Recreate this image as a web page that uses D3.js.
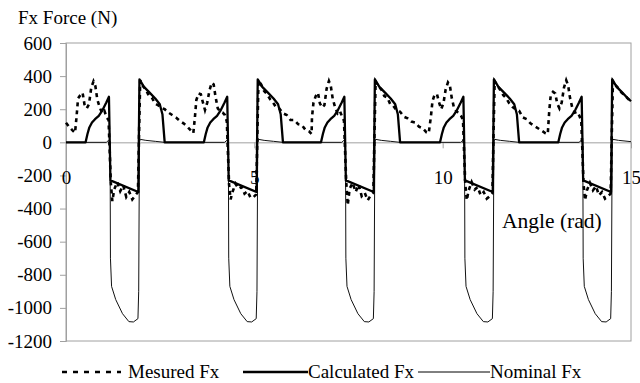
<!DOCTYPE html>
<html>
<head>
<meta charset="utf-8">
<script src="https://cdn.jsdelivr.net/npm/d3@7"></script>
<style>
  body { margin: 0; background: #fff; }
  svg text { font-family: "Liberation Serif", "Times New Roman", Times, "DejaVu Serif", serif !important; fill: #000; }
</style>
</head>
<body>
<svg width="640" height="383"></svg>
<script>
// tick values
const yTicks = [-1200, -1000, -800, -600, -400, -200, 0, 200, 400, 600]
const xTicks = [0, 5, 10, 15]

const measured = [
  [0, 118], [0.08, 95], [0.16, 75], [0.24, 58],
  [0.28, 155], [0.32, 265], [0.38, 285], [0.44, 300], [0.49, 230], [0.55, 205], [0.61, 230], [0.67, 330], [0.73, 368], [0.78, 340],
  [0.83, 260], [0.89, 215], [0.96, 175], [1.02, 190], [1.08, 150], [1.13, 135], [1.16, -50], [1.19, -245], [1.23, -355], [1.28, -285],
  [1.36, -240], [1.44, -295], [1.52, -260], [1.60, -330], [1.68, -300], [1.76, -345], [1.84, -320], [1.91, -300], [1.94, 60], [1.97, 375],
  [2.04, 340], [2.12, 320], [2.20, 280], [2.28, 270], [2.36, 235], [2.44, 225], [2.52, 210], [2.62, 200], [2.72, 180], [2.82, 165],
  [2.92, 150], [3.02, 130], [3.12, 115], [3.22, 95], [3.32, 70], [3.38, 55],
  [3.42, 145], [3.46, 255], [3.52, 295], [3.58, 290], [3.63, 245], [3.69, 195], [3.75, 240], [3.81, 315], [3.87, 360], [3.92, 350],
  [3.97, 275], [4.03, 205], [4.10, 185], [4.16, 180], [4.22, 165], [4.27, 125], [4.30, -70], [4.33, -255], [4.37, -345], [4.42, -300],
  [4.50, -250], [4.58, -280], [4.66, -270], [4.74, -310], [4.82, -295], [4.90, -335], [4.98, -330], [5.05, -315], [5.08, 45], [5.11, 372],
  [5.18, 350], [5.26, 310], [5.34, 290], [5.42, 260], [5.50, 240], [5.58, 210], [5.66, 205], [5.76, 175], [5.86, 165], [5.96, 135],
  [6.06, 135], [6.16, 110], [6.26, 105], [6.36, 75], [6.46, 65], [6.52, 50],
  [6.53, 150], [6.57, 240], [6.63, 280], [6.69, 300], [6.74, 235], [6.80, 210], [6.86, 225], [6.92, 325], [6.98, 370], [7.03, 340],
  [7.08, 265], [7.14, 215], [7.21, 175], [7.27, 190], [7.33, 155], [7.38, 130], [7.41, -55], [7.44, -240], [7.48, -380], [7.53, -280],
  [7.61, -245], [7.69, -300], [7.77, -255], [7.85, -325], [7.93, -305], [8.01, -350], [8.09, -320], [8.16, -305], [8.19, 55], [8.22, 368],
  [8.29, 340], [8.37, 320], [8.45, 280], [8.53, 270], [8.61, 230], [8.69, 220], [8.77, 195], [8.87, 185], [8.97, 155], [9.07, 145],
  [9.17, 125], [9.27, 120], [9.37, 95], [9.47, 85], [9.57, 60], [9.63, 55],
  [9.69, 160], [9.73, 250], [9.79, 290], [9.85, 290], [9.90, 245], [9.96, 200], [10.02, 235], [10.08, 320], [10.14, 362], [10.19, 345],
  [10.24, 270], [10.30, 210], [10.37, 185], [10.43, 180], [10.49, 160], [10.54, 135], [10.57, -65], [10.60, -250], [10.64, -350], [10.69, -290],
  [10.77, -240], [10.85, -285], [10.93, -270], [11.01, -320], [11.09, -300], [11.17, -340], [11.25, -325], [11.32, -310], [11.35, 50], [11.38, 370],
  [11.45, 345], [11.53, 315], [11.61, 285], [11.69, 265], [11.77, 235], [11.85, 215], [11.93, 200], [12.03, 190], [12.13, 150], [12.23, 140],
  [12.33, 115], [12.43, 100], [12.53, 85], [12.63, 70], [12.73, 55], [12.79, 50],
  [12.83, 190], [12.87, 287], [12.93, 305], [12.99, 295], [13.04, 235], [13.10, 205], [13.16, 240], [13.22, 330], [13.28, 375], [13.33, 345],
  [13.38, 270], [13.44, 210], [13.51, 180], [13.57, 185], [13.63, 160], [13.68, 130], [13.71, -60], [13.74, -250], [13.78, -350], [13.83, -290],
  [13.91, -245], [13.99, -290], [14.07, -265], [14.15, -320], [14.23, -300], [14.31, -340], [14.39, -325], [14.46, -310], [14.49, 50], [14.52, 370],
  [14.59, 345], [14.67, 325], [14.75, 300], [14.83, 285], [14.91, 265], [15.0, 245],
]

// calculated Fx
const calculated = [
  [0, 0],
  [0.52, 0], [0.57, 50], [0.62, 90], [0.69, 120], [0.77, 140], [0.87, 160], [0.97, 195], [1.07, 240], [1.14, 275], [1.18, -230],
  [1.92, -300], [1.95, 380], [2.07, 335], [2.22, 300], [2.37, 265], [2.49, 230], [2.56, 170], [2.62, 0],
  [3.66, 0], [3.71, 50], [3.76, 90], [3.83, 120], [3.91, 140], [4.01, 160], [4.11, 195], [4.21, 240], [4.28, 275], [4.32, -230],
  [5.06, -300], [5.09, 380], [5.21, 335], [5.36, 300], [5.51, 265], [5.63, 230], [5.70, 170], [5.76, 0],
  [6.77, 0], [6.82, 50], [6.87, 90], [6.94, 120], [7.02, 140], [7.12, 160], [7.22, 195], [7.32, 240], [7.39, 275], [7.43, -230],
  [8.17, -300], [8.20, 380], [8.32, 335], [8.47, 300], [8.62, 265], [8.74, 230], [8.81, 170], [8.87, 0],
  [9.93, 0], [9.98, 50], [10.03, 90], [10.10, 120], [10.18, 140], [10.28, 160], [10.38, 195], [10.48, 240], [10.55, 275], [10.59, -230],
  [11.33, -300], [11.36, 380], [11.48, 335], [11.63, 300], [11.78, 265], [11.90, 230], [11.97, 170], [12.03, 0],
  [13.07, 0], [13.12, 50], [13.17, 90], [13.24, 120], [13.32, 140], [13.42, 160], [13.52, 195], [13.62, 240], [13.69, 275], [13.73, -230],
  [14.47, -300], [14.50, 380], [14.62, 335], [14.77, 300], [14.92, 265], [15.0, 248],
]

// nominal Fx
const nominal = [
  [0, 0],
  [1.07, 0], [1.13, 12], [1.16, 5], [1.17, 0], [1.18, -700], [1.21, -870], [1.32, -950], [1.50, -1035], [1.67, -1083],
  [1.79, -1085], [1.91, -1065], [1.93, -900], [1.95, 0], [1.97, 18], [2.12, 12], [2.37, 6], [2.62, 0],
  [4.21, 0], [4.27, 12], [4.30, 5], [4.31, 0], [4.32, -700], [4.35, -870], [4.46, -950], [4.64, -1035], [4.81, -1083],
  [4.93, -1085], [5.05, -1065], [5.07, -900], [5.09, 0], [5.11, 18], [5.26, 12], [5.51, 6], [5.76, 0],
  [7.32, 0], [7.38, 12], [7.41, 5], [7.42, 0], [7.43, -700], [7.46, -870], [7.57, -950], [7.75, -1035], [7.92, -1083],
  [8.04, -1085], [8.16, -1065], [8.18, -900], [8.20, 0], [8.22, 18], [8.37, 12], [8.62, 6], [8.87, 0],
  [10.48, 0], [10.54, 12], [10.57, 5], [10.58, 0], [10.59, -700], [10.62, -870], [10.73, -950], [10.91, -1035], [11.08, -1083],
  [11.20, -1085], [11.32, -1065], [11.34, -900], [11.36, 0], [11.38, 18], [11.53, 12], [11.78, 6], [12.03, 0],
  [13.62, 0], [13.68, 12], [13.71, 5], [13.72, 0], [13.73, -700], [13.76, -870], [13.87, -950], [14.05, -1035], [14.22, -1083],
  [14.34, -1085], [14.46, -1065], [14.48, -900], [14.50, 0], [14.52, 18], [14.67, 12], [14.92, 6], [15.0, 4],
]

const svg = d3.select("svg")
const plotLeft = 66, plotRight = 631, plotTop = 43, plotBottom = 341
const gray = "#a0a0a0"
const serif = '"Liberation Serif", "Times New Roman", Times, "DejaVu Serif", serif'

const x = d3.scaleLinear().domain([0, 15]).range([plotLeft, plotRight])
const y = d3.scaleLinear().domain([-1200, 600]).range([plotBottom, plotTop])

// plot area border
svg.append("rect")
  .attr("x", plotLeft).attr("y", plotTop)
  .attr("width", plotRight - plotLeft).attr("height", plotBottom - plotTop)
  .attr("fill", "none").attr("stroke", gray)

// y axis
const yAxis = svg.append("g")
  .attr("transform", `translate(${plotLeft},0)`)
  .call(d3.axisLeft(y).tickValues(yTicks).tickSize(6).tickPadding(8).tickFormat((d) => String(d)))
yAxis.attr("font-family", serif).attr("font-size", 19)
yAxis.selectAll("path, line").attr("stroke", gray)

// x axis on the zero line
const xAxis = svg.append("g")
  .attr("transform", `translate(0,${y(0)})`)
  .call(d3.axisBottom(x).tickValues(xTicks).tickSizeInner(6).tickSizeOuter(0).tickPadding(22).tickFormat((d) => String(d)))
xAxis.attr("font-family", serif).attr("font-size", 19)
xAxis.selectAll("path, line").attr("stroke", gray)

const line = d3.line().x((d) => x(d[0])).y((d) => y(d[1]))

svg.append("path").datum(nominal)
  .attr("d", line).attr("fill", "none")
  .attr("stroke", "#111").attr("stroke-width", 1)

svg.append("path").datum(calculated)
  .attr("d", line).attr("fill", "none")
  .attr("stroke", "#000").attr("stroke-width", 2.3).attr("stroke-linejoin", "round")

svg.append("path").datum(measured)
  .attr("d", line).attr("fill", "none")
  .attr("stroke", "#000").attr("stroke-width", 2.6)
  .attr("stroke-dasharray", "4,4")

// titles
svg.append("text").attr("x", 18).attr("y", 24)
  .attr("font-family", serif).attr("font-size", 19).text("Fx Force (N)")
svg.append("text").attr("x", 502).attr("y", 228)
  .attr("font-family", serif).attr("font-size", 21.5).text("Angle (rad)")

// legend
const legend = [
  { name: "Mesured Fx", x1: 62, x2: 121, tx: 128, width: 2.6, dash: "5,6" },
  { name: "Calculated Fx", x1: 243, x2: 308, tx: 308, width: 2.3, dash: null },
  { name: "Nominal Fx", x1: 418, x2: 490, tx: 490, width: 1, dash: null },
]
const lg = svg.append("g")
legend.forEach((l) => {
  lg.append("line")
    .attr("x1", l.x1).attr("x2", l.x2).attr("y1", 372).attr("y2", 372)
    .attr("stroke", "#000").attr("stroke-width", l.width)
    .attr("stroke-dasharray", l.dash)
  lg.append("text").attr("x", l.tx).attr("y", 378)
    .attr("font-family", serif).attr("font-size", 19).text(l.name)
})
</script>
</body>
</html>
